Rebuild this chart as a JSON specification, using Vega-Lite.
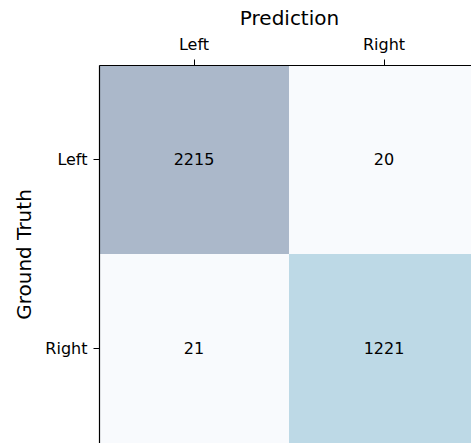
{
  "$schema": "https://vega.github.io/schema/vega-lite/v6.json",
  "autosize": {"type": "none"},
  "padding": {"left": 99, "top": 65, "right": 0, "bottom": 0},
  "width": 380,
  "height": 378,
  "background": "white",
  "config": {
    "font": "DejaVu Sans",
    "view": {"stroke": "#000000", "strokeWidth": 1},
    "axis": {"domain": true, "domainColor": "#000000", "domainWidth": 1.2, "grid": false}
  },
  "data": {
    "values": [
      {"truth": "Left", "pred": "Left", "count": 2215, "cell": "a"},
      {"truth": "Left", "pred": "Right", "count": 20, "cell": "b"},
      {"truth": "Right", "pred": "Left", "count": 21, "cell": "c"},
      {"truth": "Right", "pred": "Right", "count": 1221, "cell": "d"}
    ]
  },
  "encoding": {
    "x": {
      "field": "pred", "type": "nominal", "sort": ["Left", "Right"],
      "scale": {"paddingInner": 0, "paddingOuter": 0},
      "axis": {"orient": "top", "title": "Prediction", "labelAngle": 0,
        "labelFontSize": 16, "labelColor": "#000000", "tickColor": "#000000", "tickSize": 6,
        "labelPadding": 7, "titleFontSize": 20, "titleFontWeight": "normal", "titleColor": "#000000", "titlePadding": 8}
    },
    "y": {
      "field": "truth", "type": "nominal", "sort": ["Left", "Right"],
      "scale": {"paddingInner": 0, "paddingOuter": 0},
      "axis": {"title": "Ground Truth",
        "labelFontSize": 16, "labelColor": "#000000", "tickColor": "#000000", "tickSize": 6,
        "labelPadding": 6, "titleFontSize": 20, "titleFontWeight": "normal", "titleColor": "#000000", "titlePadding": 10}
    }
  },
  "layer": [
    {
      "mark": {"type": "rect"},
      "encoding": {
        "color": {
          "field": "cell", "type": "nominal",
          "scale": {"domain": ["a", "b", "c", "d"], "range": ["#abb8ca", "#f8fafd", "#f8fafd", "#bdd9e6"]},
          "legend": null
        }
      }
    },
    {
      "mark": {"type": "text", "fontSize": 16, "color": "#000000", "baseline": "middle"},
      "encoding": {"text": {"field": "count", "type": "quantitative"}}
    }
  ]
}
